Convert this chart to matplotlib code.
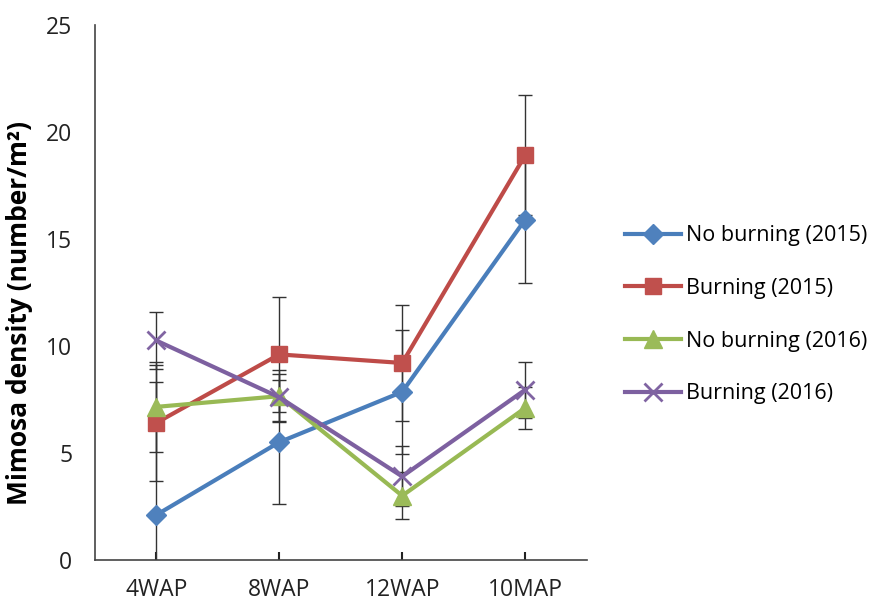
import numpy as np
import matplotlib.pyplot as plt

plt.rcParams['font.family'] = ['Open Sans', 'DejaVu Sans']

# data
stages = ['4WAP', '8WAP', '12WAP', '10MAP']
labels = ['No burning (2015)', 'Burning (2015)', 'No burning (2016)', 'Burning (2016)']

no_burn_2015 = [2.1, 5.5, 7.85, 15.9]
burn_2015 = [6.4, 9.6, 9.2, 18.9]
no_burn_2016 = [7.15, 7.65, 3.0, 7.1]
burn_2016 = [10.25, 7.6, 3.9, 7.95]

err_no_burn_2015 = [6.2, 2.9, 2.9, 2.95]
err_burn_2015 = [2.7, 2.7, 2.7, 2.8]
err_no_burn_2016 = [2.1, 1.2, 1.1, 1.0]
err_burn_2016 = [1.35, 1.1, 1.4, 1.3]

series = [
    (no_burn_2015, err_no_burn_2015, '#4A7EBB', '#4F81BD', 'D', 10),
    (burn_2015, err_burn_2015, '#BE4B48', '#C0504D', 's', 12),
    (no_burn_2016, err_no_burn_2016, '#98B954', '#9BBB59', '^', 13),
    (burn_2016, err_burn_2016, '#7D60A0', '#8064A2', 'x', 13),
]

fig = plt.figure(figsize=(8.77, 6.09), dpi=100)
ax = fig.add_axes([0.108, 0.0805, 0.561, 0.879])

x = np.arange(len(stages))
for (vals, errs, lc, mc, mk, ms), lab in zip(series, labels):
    ax.errorbar(x, vals, yerr=errs, fmt='none', ecolor='#333333',
                elinewidth=1.0, capsize=5, capthick=1.0, zorder=2)
    ax.plot(x, vals, color=lc, linewidth=3, marker=mk, markersize=ms,
            markerfacecolor=mc, markeredgecolor=mc, markeredgewidth=2 if mk == 'x' else 1,
            label=lab, zorder=3)

ax.set_xlim(-0.5, 3.5)
ax.set_ylim(0, 25)
ax.set_yticks([0, 5, 10, 15, 20, 25])
ax.set_xticks(x)
ax.set_xticklabels(stages)
ax.tick_params(axis='x', direction='in', length=6, width=1.5, labelsize=16.5,
               pad=13, colors='#222222')
ax.tick_params(axis='y', length=0, labelsize=16.5, pad=16, colors='#222222')
ax.spines['top'].set_visible(False)
ax.spines['right'].set_visible(False)
ax.spines['left'].set_color('#444444')
ax.spines['bottom'].set_color('#444444')
ax.spines['left'].set_linewidth(1.2)
ax.spines['bottom'].set_linewidth(1.2)
ax.set_ylabel('Mimosa density (number/m²)', fontsize=19, fontweight='bold')
ax.yaxis.set_label_coords(-0.125, 0.462)

ax.legend(loc='center left', bbox_to_anchor=(1.039, 0.458), frameon=False,
          fontsize=15.5, handlelength=2.6, handletextpad=0.23, labelspacing=1.47)

fig.savefig('out.png', dpi=100)
